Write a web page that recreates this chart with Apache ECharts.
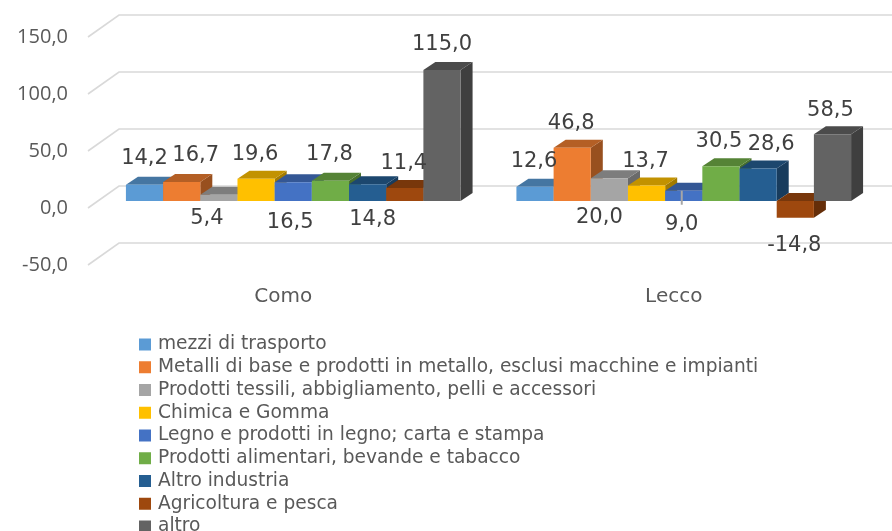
<!DOCTYPE html>
<html>
<head>
<meta charset="utf-8">
<style>
html, body { margin: 0; padding: 0; background: #fff; }
#chart { width: 892px; height: 531px; filter: blur(0.4px); }
</style>
<script src="https://cdn.jsdelivr.net/npm/echarts@6/dist/echarts.min.js"></script>
</head>
<body>
<div id="chart"></div>
<script>
var categories = ['Como', 'Lecco'];
var yTicks = [150, 100, 50, 0, -50];
var seriesNames = [
    'mezzi di trasporto',
    'Metalli di base e prodotti in metallo, esclusi macchine e impianti',
    'Prodotti tessili, abbigliamento, pelli e accessori',
    'Chimica e Gomma',
    'Legno e prodotti in legno; carta e stampa',
    'Prodotti alimentari, bevande e tabacco',
    'Altro industria',
    'Agricoltura e pesca',
    'altro'
];
var mezzi = [14.2, 12.6];
var metalli = [16.7, 46.8];
var tessili = [5.4, 20.0];
var chimica = [19.6, 13.7];
var legno = [16.5, 9.0];
var alimentari = [17.8, 30.5];
var altroIndustria = [14.8, 28.6];
var agricoltura = [11.4, -14.8];
var altro = [115.0, 58.5];
var seriesValues = [mezzi, metalli, tessili, chimica, legno, alimentari, altroIndustria, agricoltura, altro];

var colors = ['#5b9bd5', '#ed7d31', '#a5a5a5', '#ffc000', '#4472c4', '#70ad47', '#255e91', '#9e480e', '#636363'];

// spostamento delle etichette rispetto al punto sopra la barra [dx, dy], per serie e categoria
var labelShift = [
    [[0, -26], [-1, -25]],
    [[14, -26], [-1, -24]],
    [[-12, 24], [-10, 39]],
    [[-1, -24], [-1, -24]],
    [[-3, 40], [-2, 34]],
    [[-1, -26], [-2, -25]],
    [[5, 35], [13, -24]],
    [[-1, -24], [-1, 28]],
    [[0, -25], [-2, -24]]
];

var wallDepth = [31, -22];
var barDepth = [12, -8];
var barRatio = 0.857;
var fontName = '"Open Sans", sans-serif';
var wideFont = '"DejaVu Sans", sans-serif';

function formatValue(v) {
    return v.toFixed(1).replace('.', ',');
}

//scurisce il colore per le facce in ombra
function shade(color, factor) {
    var rgb = echarts.color.parse(color);
    return 'rgb(' + Math.round(rgb[0] * factor) + ',' + Math.round(rgb[1] * factor) + ',' + Math.round(rgb[2] * factor) + ')';
}

//griglia prospettica: fianco e parete di fondo
function renderWall(params, api) {
    var y = api.coord([0, api.value(1)])[1];
    var x0 = params.coordSys.x;
    return {
        type: 'polyline',
        shape: { points: [[x0, y], [x0 + wallDepth[0], y + wallDepth[1]], [api.getWidth(), y + wallDepth[1]]] },
        style: { fill: null, stroke: '#d9d9d9', lineWidth: 1.6 },
        silent: true
    };
}

//barra 3D: fronte, lato e cima
function makeBarRender(index) {
    return function (params, api) {
        var cat = api.value(0);
        var val = api.value(1);
        var base = api.coord([cat, 0]);
        var top = api.coord([cat, val]);
        var w = api.size([1, 0])[0] * barRatio / seriesNames.length;
        var x = base[0] + (index - (seriesNames.length - 1) / 2 - 0.5) * w;
        var yHigh = Math.min(base[1], top[1]);
        var yLow = Math.max(base[1], top[1]);
        var c = colors[index];
        var dx = barDepth[0], dy = barDepth[1];
        var shift = labelShift[index][cat];
        var children = [
            {
                type: 'polygon',
                shape: { points: [[x + w, yHigh], [x + w + dx, yHigh + dy], [x + w + dx, yLow + dy], [x + w, yLow]] },
                style: { fill: shade(c, 0.64) }
            },
            {
                type: 'polygon',
                shape: { points: [[x, yHigh], [x + dx, yHigh + dy], [x + w + dx, yHigh + dy], [x + w, yHigh]] },
                style: { fill: shade(c, 0.76) }
            },
            {
                type: 'rect',
                shape: { x: x, y: yHigh, width: w, height: yLow - yHigh },
                style: { fill: c }
            }
        ];
        // linea guida dell'etichetta 9,0
        if (val === 9.0) {
            children.push({
                type: 'line',
                shape: { x1: x + w / 2 - 2, y1: yHigh, x2: x + w / 2 - 2, y2: yHigh + 14 },
                style: { stroke: '#a6a6a6', lineWidth: 2 }
            });
        }
        children.push({
            type: 'text',
            z2: 100,
            style: {
                x: x + w / 2 + shift[0],
                y: top[1] + shift[1],
                text: formatValue(val),
                align: 'center',
                verticalAlign: 'middle',
                fill: '#404040',
                font: '21px ' + wideFont
            }
        });
        return { type: 'group', children: children };
    };
}

var series = [{
    type: 'custom',
    xAxisIndex: 0,
    yAxisIndex: 0,
    silent: true,
    renderItem: renderWall,
    encode: { x: 0, y: 1 },
    data: yTicks.map(function (t) { return [0, t]; })
}];

seriesNames.forEach(function (name, i) {
    series.push({
        name: name,
        type: 'custom',
        xAxisIndex: 1,
        yAxisIndex: 1,
        renderItem: makeBarRender(i),
        itemStyle: { color: colors[i] },
        encode: { x: 0, y: 1 },
        data: seriesValues[i].map(function (v, c) { return [c, v]; })
    });
});

var chart = echarts.init(document.getElementById('chart'), null, { renderer: 'canvas' });
chart.setOption({
    animation: false,
    backgroundColor: '#fff',
    grid: [
        { left: 88, top: 37, width: 781, height: 228 },
        { left: 98, top: 30, width: 781, height: 228 }
    ],
    xAxis: [
        {
            type: 'category', gridIndex: 0, data: categories,
            axisLine: { show: false }, axisTick: { show: false },
            axisLabel: { margin: 22, color: '#595959', fontSize: 20, fontFamily: wideFont }
        },
        { type: 'category', gridIndex: 1, data: categories, show: false }
    ],
    yAxis: [
        {
            type: 'value', gridIndex: 0, min: -50, max: 150, interval: 50,
            axisLine: { show: false }, axisTick: { show: false }, splitLine: { show: false },
            axisLabel: { margin: 20, color: '#595959', fontSize: 20, fontFamily: fontName, padding: [4, 0, 0, 0], formatter: formatValue }
        },
        { type: 'value', gridIndex: 1, min: -50, max: 150, interval: 50, show: false }
    ],
    legend: {
        orient: 'vertical',
        left: 139,
        top: 335,
        height: 400,
        padding: 0,
        itemWidth: 12,
        itemHeight: 12,
        itemGap: 3.75,
        icon: 'rect',
        data: seriesNames,
        textStyle: { color: '#595959', fontSize: 18.6, fontFamily: wideFont, lineHeight: 18.7, padding: [0, 0, 0, 2] }
    },
    series: series
});
</script>
</body>
</html>
